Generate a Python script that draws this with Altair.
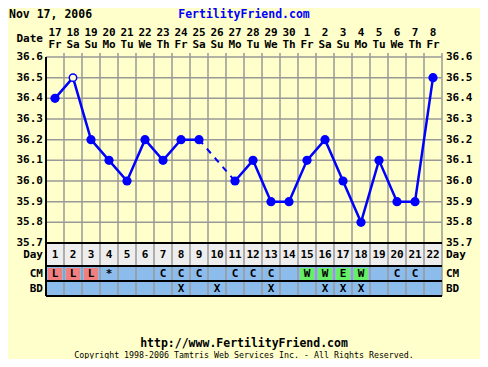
import altair as alt
import pandas as pd

# ---------------- data ----------------
days = list(range(1, 23))
dates = ["17", "18", "19", "20", "21", "22", "23", "24", "25", "26", "27", "28",
         "29", "30", "1", "2", "3", "4", "5", "6", "7", "8"]
dows = ["Fr", "Sa", "Su", "Mo", "Tu", "We", "Th", "Fr", "Sa", "Su", "Mo", "Tu",
        "We", "Th", "Fr", "Sa", "Su", "Mo", "Tu", "We", "Th", "Fr"]
temps = [36.4, 36.5, 36.2, 36.1, 36.0, 36.2, 36.1, 36.2, 36.2, None, 36.0, 36.1,
         35.9, 35.9, 36.1, 36.2, 36.0, 35.8, 36.1, 35.9, 35.9, 36.5]
open_days = [2]
cm = ["L", "L", "L", "*", "", "", "C", "C", "C", "", "C", "C", "C", "", "W", "W",
      "E", "W", "", "C", "C", ""]
bd = ["", "", "", "", "", "", "", "X", "", "X", "", "", "X", "", "", "X", "X", "X",
      "", "", "", ""]
y_ticks = [35.7, 35.8, 35.9, 36.0, 36.1, 36.2, 36.3, 36.4, 36.5, 36.6]
y_labels = ["35.7", "35.8", "35.9", "36.0", "36.1", "36.2", "36.3", "36.4", "36.5", "36.6"]
cm_colors = {"L": "#f08080", "W": "#66ee66", "E": "#66ee66"}

title_left = "Nov 17, 2006"
title_site = "FertilityFriend.com"
footer_url = "http://www.FertilityFriend.com"
footer_copy = "Copyright 1998-2006 Tamtris Web Services Inc. - All Rights Reserved."

# ---------------- layout ----------------
W, H = 396, 239
T_BOT = 186          # pixel y of 35.7
DAY_BOT = 209
CM_BOT = 224
MONO = "DejaVu Sans Mono"
BG = "#ffffcc"
BLUE = "#0000ff"
ROWBLUE = "#8cbcec"
GRID = "#999999"

df = pd.DataFrame({"day": days, "date": dates, "dow": dows, "temp": temps,
                   "cm": cm, "bd": bd})

# line segments
seg_id, segs = 0, []
for t in temps:
    if t is None:
        seg_id += 1
        segs.append(None)
    else:
        segs.append(seg_id)
df["seg"] = segs
solid = df[df["temp"].notna()].copy()

dash_rows = []
for i, t in enumerate(temps):
    if t is None:
        j = i - 1
        k = i + 1
        while k < len(temps) and temps[k] is None:
            k += 1
        if j >= 0 and k < len(temps) and (i == 0 or temps[i - 1] is not None):
            dash_rows.append({"day": days[j], "temp": temps[j], "g": i})
            dash_rows.append({"day": days[k], "temp": temps[k], "g": i})
dashed = pd.DataFrame(dash_rows)

filled_pts = solid[~solid["day"].isin(open_days)]
open_pts = solid[solid["day"].isin(open_days)]

cells = df[df["cm"].isin(list(cm_colors.keys()))].copy()
cells["x1"] = cells["day"] - 0.5 + 2 / 18
cells["x2"] = cells["day"] + 0.5 - 2 / 18
cells["col"] = cells["cm"].map(cm_colors)

bounds = pd.DataFrame({"b": [d + 0.5 for d in days]})
ticks_df = pd.DataFrame({"v": y_ticks, "lab": y_labels})

xs = alt.Scale(domain=[0.5, 22.5], nice=False, zero=False)
ys = alt.Scale(domain=[35.7, 36.6], range=[T_BOT, 0], nice=False, zero=False)
X = alt.X("day:Q", scale=xs, axis=None)
one = alt.Data(values=[{}])


def band(y1, y2, color):
    return alt.Chart(one).mark_rect(color=color).encode(
        x=alt.value(0), x2=alt.value(W), y=alt.value(y1), y2=alt.value(y2))


def hline(y, color="black", w=1.5):
    return alt.Chart(one).mark_rule(color=color, strokeWidth=w).encode(
        x=alt.value(0), x2=alt.value(W), y=alt.value(y))


def label(text, x, y, align="left", size=11, color="black", weight="bold", baseline="middle"):
    return alt.Chart(one).mark_text(
        text=text, font=MONO, fontSize=size, fontWeight=weight, color=color,
        align=align, baseline=baseline).encode(x=alt.value(x), y=alt.value(y))


day_row = band(T_BOT, DAY_BOT, "#eeeeee")
blue_rows = band(DAY_BOT, H, ROWBLUE)

cm_cells = alt.Chart(cells).mark_rect().encode(
    x=alt.X("x1:Q", scale=xs, axis=None), x2="x2:Q",
    y=alt.value(DAY_BOT + 2), y2=alt.value(CM_BOT - 1),
    color=alt.Color("col:N", scale=None))

vgrid = alt.Chart(bounds[bounds["b"] < 22.5]).mark_rule(color=GRID, strokeWidth=1.5).encode(
    x=alt.X("b:Q", scale=xs, axis=None), y=alt.value(-4), y2=alt.value(H))
right_edge = alt.Chart(bounds[bounds["b"] == 22.5]).mark_rule(color=GRID, strokeWidth=1.5).encode(
    x=alt.X("b:Q", scale=xs, axis=None), y=alt.value(-4), y2=alt.value(H))

hgrid = alt.Chart(ticks_df[ticks_df["v"] > 35.75]).mark_rule(color=GRID, strokeWidth=1.5).encode(
    y=alt.Y("v:Q", scale=ys, axis=None), x=alt.value(0), x2=alt.value(W))

black_lines = hline(T_BOT, w=2) + hline(DAY_BOT, w=2) + hline(CM_BOT, w=2) + hline(H, w=2)
left_edge = alt.Chart(one).mark_rule(color="black", strokeWidth=2).encode(
    x=alt.value(0), y=alt.value(0), y2=alt.value(H))

line_solid = alt.Chart(solid).mark_line(color=BLUE, strokeWidth=2.5).encode(
    x=X, y=alt.Y("temp:Q", scale=ys, axis=None), detail="seg:N")
line_dash = alt.Chart(dashed).mark_line(color=BLUE, strokeWidth=2, strokeDash=[6, 6]).encode(
    x=X, y=alt.Y("temp:Q", scale=ys, axis=None), detail="g:N")
pts = alt.Chart(filled_pts).mark_circle(color=BLUE, size=85, opacity=1).encode(
    x=X, y=alt.Y("temp:Q", scale=ys, axis=None))
opts = alt.Chart(open_pts).mark_point(shape="circle", fill=BG, stroke=BLUE, strokeWidth=1.5,
                                      size=55, opacity=1, fillOpacity=1).encode(
    x=X, y=alt.Y("temp:Q", scale=ys, axis=None))

txt = dict(font=MONO, fontSize=11, fontWeight="bold", color="black", baseline="middle")
date_txt = alt.Chart(df).mark_text(**txt).encode(x=X, y=alt.value(-24), text="date:N")
dow_txt = alt.Chart(df).mark_text(**txt).encode(x=X, y=alt.value(-12), text="dow:N")
daynum_txt = alt.Chart(df).mark_text(**txt).encode(x=X, y=alt.value(198), text="day:N")
cm_txt = alt.Chart(df).mark_text(**txt).encode(x=X, y=alt.value(217), text="cm:N")
bd_txt = alt.Chart(df).mark_text(**txt).encode(x=X, y=alt.value(232), text="bd:N")

ylab_left = alt.Chart(ticks_df).mark_text(align="right", **txt).encode(
    y=alt.Y("v:Q", scale=ys, axis=None), x=alt.value(-3), text="lab:N")
ylab_right = alt.Chart(ticks_df).mark_text(align="left", **txt).encode(
    y=alt.Y("v:Q", scale=ys, axis=None), x=alt.value(W + 4), text="lab:N")

side = (label("Date", -3, -18, "right")
        + label("Day", -3, 198, "right") + label("CM", -3, 217, "right") + label("BD", -3, 232, "right")
        + label("Day", W + 4, 198) + label("CM", W + 4, 217) + label("BD", W + 4, 232))

titles = (label(title_left, -37, -39, "left", size=11.5, baseline="alphabetic")
          + label(title_site, W / 2, -39, "center", size=11.5, color=BLUE, baseline="alphabetic")
          + label(footer_url, W / 2, 290, "center", size=11.5, baseline="alphabetic")
          + label(footer_copy, W / 2, 300.5, "center", size=8.3, weight="normal",
                  baseline="alphabetic"))

chart = alt.layer(
    day_row, blue_rows, cm_cells, vgrid, right_edge, hgrid, black_lines, left_edge,
    line_dash, line_solid, pts, opts,
    date_txt, dow_txt, daynum_txt, cm_txt, bd_txt, ylab_left, ylab_right, side, titles
).properties(
    width=W, height=H,
    padding={"left": 38, "top": 49, "right": 38, "bottom": 63},
    autosize=alt.AutoSizeParams(type="none"),
    background=BG,
).configure_view(stroke=None, fill=BG)

chart.save("out.html", embed_options={"renderer": "svg", "actions": False})
